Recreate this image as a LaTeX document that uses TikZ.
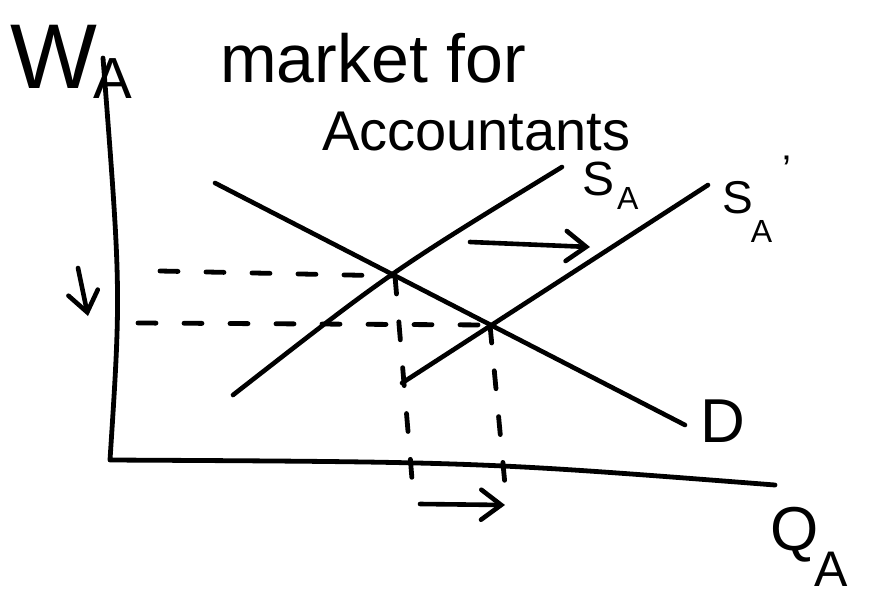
\documentclass[tikz,border=0pt]{standalone}
\usepackage{fontspec}
\setmainfont{Liberation Sans}
\usepackage{tikz}
\usetikzlibrary{arrows.meta,positioning,calc}
\usepackage{xcolor}
\definecolor{ink}{RGB}{0,0,0}
\newcommand{\handsz}[1]{\fontsize{#1}{#1}\selectfont}
\tikzset{
  axisline/.style={draw=ink,line width=4.8pt,line cap=round,line join=round},
  curve/.style={draw=ink,line width=4.6pt,line cap=round},
  guide/.style={draw=ink,line width=4.8pt,line cap=round,dash pattern=on 18pt off 28pt},
  shiftarrow/.style={draw=ink,line width=4.6pt,line cap=round,-{Straight Barb[length=20pt,width=30pt,line cap=round]}},
  handtext/.style={text=ink,inner sep=0pt,anchor=base west}
}

\begin{document}
\begin{tikzpicture}[x=1pt,y=-1pt]
  \useasboundingbox (0,0) rectangle (870,595);
  % axes
  \coordinate (orig) at (110,460);
  \coordinate (ytop) at (103,58);
  \coordinate (xend) at (775,485);
  \draw[axisline] (ytop) .. controls (121,290) .. (orig) .. controls (480,462) .. (xend);
  \node[handtext] (wlab) at (10,88) {\handsz{92}W\kern-4pt\lower10pt\hbox{\handsz{58}A}};
  \node[handtext] (qlab) at (770,550) {\handsz{62}Q\kern-4pt\lower36pt\hbox{\handsz{50}A}};
  % title
  \node[handtext] (ttl1) at (220,82) {\handsz{68}market for};
  \node[handtext] (ttl2) at (322,150) {\handsz{56}Accountants};
  % curves
  \coordinate (e1) at (395,276);
  \coordinate (e2) at (490,325);
  \coordinate (dhi) at (215,183);
  \coordinate (dlo) at (685,425);
  \coordinate (salo) at (233,395);
  \coordinate (sahi) at (562,167);
  \coordinate (sblo) at (402,383);
  \coordinate (sbhi) at (708,185);
  \draw[curve] (dhi) -- (dlo);
  \draw[curve] (salo) .. controls (392,271) .. (sahi);
  \draw[curve] (sblo) -- (sbhi);
  \node[handtext] (dlab) at (700,442) {\handsz{62}D};
  \node[handtext] (salab) at (582,195) {\handsz{48}S\kern3pt\lower14pt\hbox{\handsz{32}A}};
  \node[handtext] (sblab) at (722,213) {\handsz{46}S\kern-2pt\lower29pt\hbox{\handsz{32}A}\raise30pt\hbox{\kern10pt\handsz{40}'}};
  % dashed guides
  \coordinate (w1) at (160,271);
  \coordinate (w2) at (138,323);
  \coordinate (q1) at (412,479);
  \coordinate (q2) at (505,485);
  \draw[guide] (w1) -- (e1);
  \draw[guide] (w2) -- (e2);
  \draw[guide] (e1) -- (q1);
  \draw[guide] (e2) -- (q2);
  % shifts
  \coordinate (sup0) at (470,242);
  \coordinate (sup1) at (590,247);
  \coordinate (qup0) at (420,504);
  \coordinate (qup1) at (505,505);
  \coordinate (wdn0) at (78,268);
  \coordinate (wdn1) at (88,316);
  \draw[shiftarrow] (sup0) -- (sup1);
  \draw[shiftarrow] (qup0) -- (qup1);
  \draw[shiftarrow] (wdn0) -- (wdn1);
\end{tikzpicture}
\end{document}
